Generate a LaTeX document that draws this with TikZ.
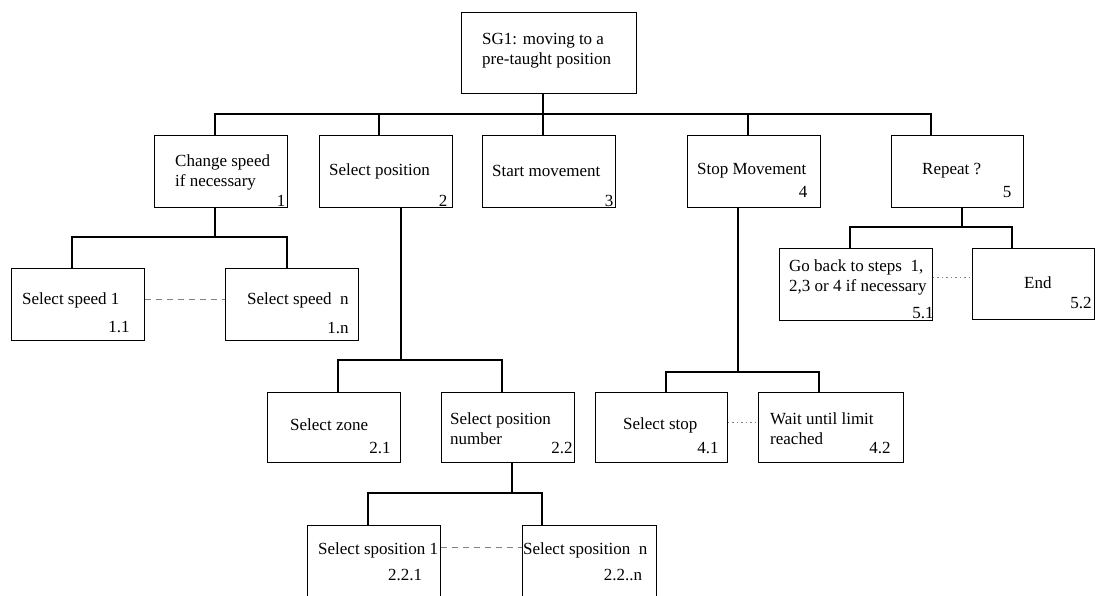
\documentclass[tikz,border=0pt]{standalone}
\usepackage{fontspec}
\setmainfont{Liberation Serif}
\begin{document}
\begin{tikzpicture}[x=1pt,y=-1pt,
  box/.style={draw, line width=1pt, inner sep=0pt, minimum width=133pt, minimum height=72pt},
  txt/.style={anchor=west, inner sep=0pt, align=left, font=\fontsize{17}{20}\selectfont},
  num/.style={inner sep=0pt, font=\fontsize{17}{20}\selectfont},
  wire/.style={line width=1.1pt},
  sib/.style={gray, line width=0.8pt, dash pattern=on 6pt off 5pt},
  sibdot/.style={gray, line width=0.8pt, dash pattern=on 1.5pt off 3pt}]
\useasboundingbox (0,0) rectangle (1096,595);
\clip (0,0) rectangle (1096,595);

% boxes
\node[box, minimum width=175pt, minimum height=81pt] (sg1) at (548.5,52.5) {};
\node[box] (c1) at (220.5,171) {};
\node[box] (c2) at (385.5,171) {};
\node[box] (c3) at (548.5,171) {};
\node[box] (c4) at (753.5,171) {};
\node[box, minimum width=132pt] (c5) at (957,171) {};
\node[box] (s1) at (77.5,304) {};
\node[box] (sn) at (291.5,304) {};
\node[box, minimum height=70pt] (p1) at (333.5,427) {};
\node[box, minimum height=70pt] (p2) at (507.5,427) {};
\node[box, minimum width=132pt, minimum height=70pt] (t1) at (661,427) {};
\node[box, minimum width=145pt, minimum height=70pt] (t2) at (830.5,427) {};
\node[box, minimum width=153pt] (r1) at (855.5,284) {};
\node[box, minimum width=122pt, minimum height=71pt] (r2) at (1033,283.5) {};
\node[box, minimum height=85pt] (b1) at (373.5,567.5) {};
\node[box, minimum width=134pt, minimum height=85pt] (b2) at (589,567.5) {};

% texts
\node[txt] (sg1t) at (482,51) {SG1: moving to a\\pre-taught position};
\node[txt] (c1t) at (175,172) {Change speed\\if necessary};
\node[txt] (c2t) at (329,171) {Select position};
\node[txt] (c3t) at (492,171) {Start movement};
\node[txt] (c4t) at (697,171) {Stop Movement};
\node[txt] (c5t) at (922,171) {Repeat ?};
\node[txt] (s1t) at (22,300) {Select speed 1};
\node[txt] (snt) at (247,300) {Select speed\ \ n};
\node[txt] (p1t) at (290,425) {Select zone};
\node[txt] (p2t) at (450,429) {Select position\\number};
\node[txt] (t1t) at (623,425) {Select stop};
\node[txt] (t2t) at (770,429) {Wait until limit\\reached};
\node[txt] (r1t) at (789,277) {Go back to steps\ \ 1,\\2,3 or 4 if necessary};
\node[txt] (r2t) at (1024,283) {End};
\node[txt] (b1t) at (318,550) {Select sposition 1};
\node[txt] (b2t) at (523,550) {Select sposition\ \ n};

% step numbers
\node[num] (n1) at (281,201) {1};
\node[num] (n2) at (443,201) {2};
\node[num] (n3) at (609,201) {3};
\node[num] (n4) at (803,192) {4};
\node[num] (n5) at (1007,192) {5};
\node[num] (n11) at (119,327) {1.1};
\node[num] (n1n) at (338,328) {1.n};
\node[num] (n21) at (380,448) {2.1};
\node[num] (n22) at (562,448) {2.2};
\node[num] (n41) at (708,448) {4.1};
\node[num] (n42) at (880,448) {4.2};
\node[num] (n51) at (923,313) {5.1};
\node[num] (n52) at (1081,303) {5.2};
\node[num] (n221) at (405,575) {2.2.1};
\node[num] (n22n) at (623,575) {2.2..n};

% bus junctions
\coordinate (j0) at (543,114);
\coordinate (j1) at (215,237);
\coordinate (j2) at (401,360);
\coordinate (j22) at (512,493);
\coordinate (j4) at (738,372);
\coordinate (j5) at (962,227);

% tree connectors
\draw[wire] (sg1.south -| j0) -- (j0);
\draw[wire] (c1.north -| 215,0) |- (j0) -| (c5.north -| 931,0);
\draw[wire] (j0) -| (c2.north -| 379,0);
\draw[wire] (j0) -- (c3.north -| j0);
\draw[wire] (j0) -| (c4.north -| 748,0);

\draw[wire] (c1.south -| j1) -- (j1);
\draw[wire] (s1.north -| 72,0) |- (j1) -| (sn.north -| 287,0);

\draw[wire] (c2.south -| j2) -- (j2);
\draw[wire] (p1.north -| 338,0) |- (j2) -| (p2.north -| 502,0);

\draw[wire] (p2.south -| j22) -- (j22);
\draw[wire] (b1.north -| 368,0) |- (j22) -| (b2.north -| 542,0);

\draw[wire] (c4.south -| j4) -- (j4);
\draw[wire] (t1.north -| 666,0) |- (j4) -| (t2.north -| 819,0);

\draw[wire] (c5.south -| j5) -- (j5);
\draw[wire] (r1.north -| 850,0) |- (j5) -| (r2.north -| 1012,0);

% sibling links
\draw[sib] (s1.east |- 0,299) -- (sn.west |- 0,299);
\draw[sib] (b1.east |- 0,547) -- (b2.west |- 0,547);
\draw[sibdot] (t1.east |- 0,422) -- (t2.west |- 0,422);
\draw[sibdot] (r1.east |- 0,277) -- (r2.west |- 0,277);
\end{tikzpicture}
\end{document}
